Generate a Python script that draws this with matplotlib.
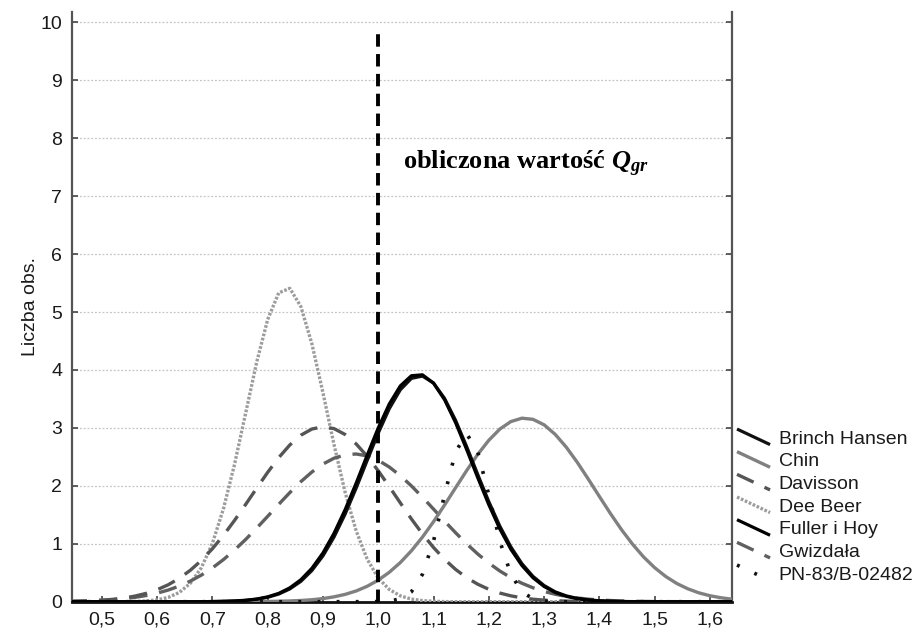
import matplotlib
matplotlib.use("Agg")
import matplotlib.pyplot as plt
from matplotlib.lines import Line2D
from matplotlib.legend_handler import HandlerLine2D

plt.rcParams['font.family'] = ['Liberation Sans', 'DejaVu Sans']
plt.rcParams['mathtext.fontset'] = 'custom'
plt.rcParams['mathtext.it'] = 'Liberation Serif:italic:bold'
plt.rcParams['mathtext.rm'] = 'Liberation Serif:bold'

# ---------------- data ----------------
x_grid = [0.44, 0.46, 0.48, 0.50, 0.52, 0.54, 0.56, 0.58, 0.60, 0.62,
          0.64, 0.66, 0.68, 0.70, 0.72, 0.74, 0.76, 0.78, 0.80, 0.82,
          0.84, 0.86, 0.88, 0.90, 0.92, 0.94, 0.96, 0.98, 1.00, 1.02,
          1.04, 1.06, 1.08, 1.10, 1.12, 1.14, 1.16, 1.18, 1.20, 1.22,
          1.24, 1.26, 1.28, 1.30, 1.32, 1.34, 1.36, 1.38, 1.40, 1.42,
          1.44, 1.46, 1.48, 1.50, 1.52, 1.54, 1.56, 1.58, 1.60, 1.62, 1.64]

brinch_hansen = [0, 0, 0, 0, 0, 0, 0, 0, 0, 0, 0, 0, 0,
                 0.003, 0.006, 0.011, 0.022, 0.042, 0.076, 0.132, 0.220, 0.351, 0.538,
                 0.791, 1.116, 1.510, 1.959, 2.438, 2.910, 3.332, 3.659, 3.855, 3.895,
                 3.775, 3.510, 3.130, 2.677, 2.197, 1.729, 1.305, 0.945, 0.656, 0.437,
                 0.280, 0.171, 0.101, 0.057, 0.031, 0.016, 0.008, 0.004, 0.002, 0.001,
                 0, 0, 0, 0, 0, 0, 0, 0]

chin = [0, 0, 0, 0, 0, 0, 0, 0, 0, 0, 0, 0, 0, 0, 0, 0, 0,
        0.002, 0.004, 0.008, 0.013, 0.021, 0.034, 0.054, 0.084, 0.126, 0.185,
        0.266, 0.372, 0.508, 0.676, 0.879, 1.115, 1.381, 1.669, 1.968, 2.264,
        2.543, 2.786, 2.980, 3.110, 3.168, 3.148, 3.054, 2.890, 2.670, 2.407,
        2.117, 1.818, 1.523, 1.245, 0.994, 0.773, 0.588, 0.436, 0.315, 0.223,
        0.153, 0.103, 0.068, 0.043]

davisson = [0.006, 0.010, 0.016, 0.026, 0.041, 0.064, 0.097, 0.143, 0.207, 0.292,
            0.403, 0.542, 0.712, 0.914, 1.146, 1.403, 1.677, 1.958, 2.233, 2.487,
            2.705, 2.874, 2.981, 3.020, 2.988, 2.887, 2.724, 2.511, 2.260, 1.986,
            1.705, 1.429, 1.170, 0.936, 0.731, 0.557, 0.415, 0.302, 0.214, 0.149,
            0.101, 0.067, 0.043, 0.027, 0.017, 0.010, 0.006, 0.003, 0.002, 0.001,
            0, 0, 0, 0, 0, 0, 0, 0, 0, 0, 0]

dee_beer = [0, 0, 0, 0, 0, 0,
            0.005, 0.013, 0.032, 0.074, 0.159, 0.317, 0.587, 1.007, 1.605, 2.370,
            3.248, 4.130, 4.872, 5.331, 5.410, 5.096, 4.452, 3.608, 2.713, 1.892,
            1.225, 0.735, 0.409, 0.211, 0.101, 0.045, 0.019, 0.007, 0.002,
            0, 0, 0, 0, 0, 0, 0, 0, 0, 0, 0, 0, 0, 0, 0, 0, 0, 0, 0, 0, 0, 0, 0, 0, 0, 0]

fuller_hoy = [0, 0, 0, 0, 0, 0, 0, 0, 0, 0, 0, 0, 0,
              0.003, 0.006, 0.013, 0.025, 0.046, 0.084, 0.144, 0.239, 0.379, 0.577,
              0.842, 1.181, 1.587, 2.046, 2.529, 3.000, 3.414, 3.726, 3.901, 3.917,
              3.773, 3.486, 3.089, 2.626, 2.141, 1.675, 1.256, 0.904, 0.624, 0.413,
              0.263, 0.160, 0.093, 0.052, 0.028, 0.015, 0.007, 0.003, 0.001, 0.001,
              0, 0, 0, 0, 0, 0, 0, 0]

gwizdala = [0.006, 0.010, 0.016, 0.024, 0.035, 0.052, 0.075, 0.106, 0.147, 0.201,
            0.269, 0.355, 0.459, 0.583, 0.727, 0.892, 1.073, 1.269, 1.474, 1.681,
            1.883, 2.072, 2.239, 2.376, 2.477, 2.535, 2.550, 2.517, 2.441, 2.325,
            2.175, 1.999, 1.804, 1.599, 1.391, 1.190, 0.999, 0.824, 0.667, 0.530,
            0.415, 0.318, 0.240, 0.177, 0.129, 0.092, 0.065, 0.044, 0.030, 0.020,
            0.013, 0.008, 0.005, 0.003, 0.002, 0.001, 0, 0, 0, 0, 0]

pn_83 = [0, 0, 0, 0, 0, 0, 0, 0, 0, 0, 0, 0, 0, 0, 0, 0, 0, 0, 0, 0,
         0, 0, 0, 0, 0, 0, 0, 0,
         0.002, 0.011, 0.049, 0.171, 0.473, 1.045, 1.843, 2.589, 2.900, 2.589,
         1.843, 1.045, 0.473, 0.171, 0.049, 0.011, 0.002,
         0, 0, 0, 0, 0, 0, 0, 0, 0, 0, 0, 0, 0, 0, 0, 0]

series_labels = ["Brinch Hansen", "Chin", "Davisson", "Dee Beer",
                 "Fuller i Hoy", "Gwizdała", "PN-83/B-02482"]

threshold_x = 1.0
threshold_top = 9.85

x_ticks = [0.5, 0.6, 0.7, 0.8, 0.9, 1.0, 1.1, 1.2, 1.3, 1.4, 1.5, 1.6]
x_tick_labels = ["0,5", "0,6", "0,7", "0,8", "0,9", "1,0", "1,1", "1,2",
                 "1,3", "1,4", "1,5", "1,6"]
y_ticks = [0, 1, 2, 3, 4, 5, 6, 7, 8, 9, 10]

# ---------------- figure ----------------
W, H = 917, 637
fig = plt.figure(figsize=(W / 100, H / 100), dpi=100)
ax = fig.add_axes([72 / W, 1 - 601.7 / H, (732 - 72) / W, (601.7 - 12) / H])
ax.set_xlim(0.446, 1.640)
ax.set_ylim(0, 10.18)

styles = {
    "Brinch Hansen": dict(color="#111111", lw=2.3, ls="-"),
    "Chin": dict(color="#808080", lw=2.4, ls="-"),
    "Davisson": dict(color="#555555", lw=2.4, ls=(0, (5.5, 3.6))),
    "Dee Beer": dict(color="#9c9c9c", lw=2.4, ls=(0, (0.8, 0.5))),
    "Fuller i Hoy": dict(color="#000000", lw=2.3, ls="-"),
    "Gwizdała": dict(color="#606060", lw=2.4, ls=(0, (5.5, 3.6))),
    "PN-83/B-02482": dict(color="#111111", lw=2.6, ls=(0, (0.8, 4.5))),
}
data = {
    "Brinch Hansen": brinch_hansen, "Chin": chin, "Davisson": davisson,
    "Dee Beer": dee_beer, "Fuller i Hoy": fuller_hoy, "Gwizdała": gwizdala,
    "PN-83/B-02482": pn_83,
}
order = ["Dee Beer", "Gwizdała", "Davisson", "Chin", "PN-83/B-02482",
         "Brinch Hansen", "Fuller i Hoy"]
handles = {}
for name in order:
    st = styles[name]
    (ln,) = ax.plot(x_grid, data[name], color=st["color"], lw=st["lw"],
                    linestyle=st["ls"], zorder=3, solid_capstyle="butt",
                    solid_joinstyle="round")
    handles[name] = ln

ax.vlines(threshold_x, 0, threshold_top, colors="#000000", linewidth=2.8,
          linestyles=(0, (3.2, 1.9)), zorder=4)

ax.text(1.045, 7.47, "obliczona wartość $Q_{gr}$", fontsize=19,
        fontweight="bold", family="Liberation Serif", va="baseline",
        ha="left", zorder=5)

# axes cosmetics
ax.set_xticks(x_ticks)
ax.set_xticklabels(x_tick_labels)
ax.set_yticks(y_ticks)
ax.tick_params(axis="both", direction="in", length=4, width=1.2,
               color="#444444", labelsize=14, labelcolor="#1a1a1a")
ax.tick_params(axis="y", right=True, pad=7)
ax.tick_params(axis="x", pad=7)
ax.yaxis.grid(True, color="#c4c4c4", linestyle=(0, (1.5, 1.5)), linewidth=0.9)
ax.set_axisbelow(True)
ax.spines["top"].set_visible(False)
for s in ("left", "right"):
    ax.spines[s].set_color("#555555")
    ax.spines[s].set_linewidth(1.6)
ax.spines["bottom"].set_color("#111111")
ax.spines["bottom"].set_linewidth(2.0)
ax.set_ylabel("Liczba obs.", fontsize=14, color="#1a1a1a", labelpad=1)


class DiagonalHandler(HandlerLine2D):
    def create_artists(self, legend, orig_handle, xdescent, ydescent,
                       width, height, fontsize, trans):
        x0 = -xdescent
        x1 = x0 + width
        ymid = height / 2 - ydescent
        dy = 0.4 * fontsize
        line = Line2D([x0, x1], [ymid + dy, ymid - dy])
        self.update_prop(line, orig_handle, legend)
        line.set_transform(trans)
        return [line]


leg = fig.legend([handles[n] for n in series_labels], series_labels,
                 loc="upper left", bbox_to_anchor=(737 / W, 1 - 430 / H),
                 frameon=False, borderpad=0, borderaxespad=0,
                 handlelength=1.7, handletextpad=0.45, labelspacing=0.26,
                 fontsize=14, handler_map={Line2D: DiagonalHandler()})
for t in leg.get_texts():
    t.set_color("#1a1a1a")

fig.savefig("out.png", dpi=100)
